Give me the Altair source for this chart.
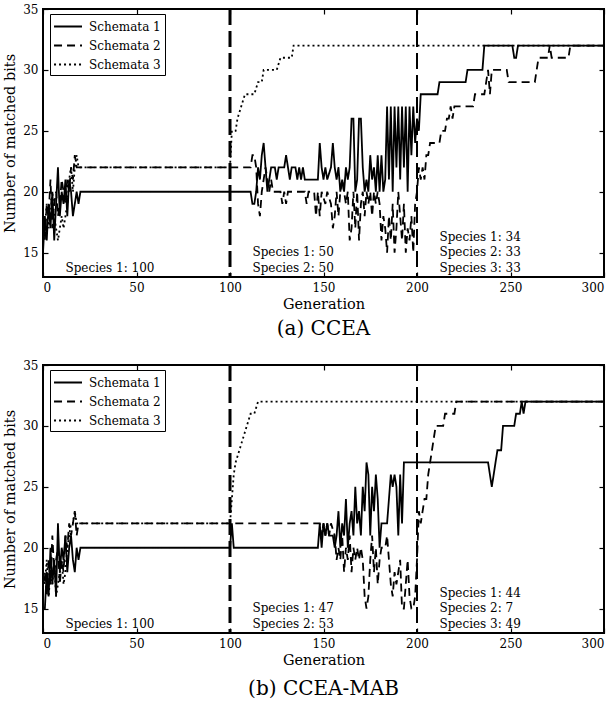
import altair as alt
import pandas as pd

FONT = "DejaVu Serif"
SERIES = ["Schemata 1", "Schemata 2", "Schemata 3"]
DASHES = [[1, 0], [8, 5], [2, 3]]
X_TICKS = [0, 50, 100, 150, 200, 250, 300]
Y_TICKS = [15, 20, 25, 30, 35]
SPLITS = [100, 200]

# ---- CCEA: values for generations 0..20, then (generation, value) vertices ----
A1_EARLY = [15, 18, 16, 19, 17, 20, 16, 19, 22, 18, 20, 19, 21, 18, 21, 20, 18, 19, 20, 19, 20]
A1_LATE = [(111, 20), (112, 19), (113, 19), (114, 20), (115, 22), (116, 21), (117, 23), (118, 24),
           (119, 22), (120, 20), (121, 21), (122, 22), (124, 22), (125, 21), (126, 22), (129, 22),
           (130, 23), (131, 22), (132, 21), (133, 22), (135, 22), (136, 21), (137, 22), (138, 21),
           (139, 22), (140, 21), (147, 21), (148, 24), (149, 22), (150, 21), (151, 22), (152, 21),
           (154, 22), (155, 24), (156, 22), (157, 21), (158, 22), (159, 20), (160, 21), (161, 20),
           (162, 22), (163, 21), (164, 22), (165, 26), (166, 26), (167, 20), (168, 21), (169, 26),
           (170, 26), (171, 22), (172, 20), (173, 21), (174, 20), (175, 23), (176, 21), (177, 22),
           (178, 20), (179, 23), (180, 20), (181, 23), (182, 20), (183, 21), (184, 27), (185, 21),
           (186, 27), (187, 20), (188, 27), (189, 22), (190, 27), (191, 21), (192, 27), (193, 22),
           (194, 27), (195, 20), (196, 27), (197, 23), (198, 27), (199, 24), (200, 26), (201, 25),
           (202, 28), (211, 28), (212, 29), (226, 29), (227, 30), (235, 30), (236, 32), (251, 32),
           (252, 31), (253, 31), (254, 32), (300, 32)]

A2_EARLY = [17, 16, 19, 18, 21, 17, 19, 20, 18, 19, 21, 20, 19, 21, 20, 22, 21, 23, 22, 22, 22]
A2_LATE = [(111, 22), (112, 23), (113, 23), (114, 22), (115, 19), (116, 18), (117, 20), (118, 21),
           (119, 22), (120, 21), (121, 20), (122, 21), (123, 20), (127, 20), (128, 19), (129, 20),
           (130, 19), (131, 20), (140, 20), (141, 19), (142, 20), (145, 20), (146, 18), (147, 20),
           (148, 18), (149, 20), (151, 19), (152, 20), (154, 19), (155, 17), (156, 18), (157, 20),
           (158, 18), (159, 20), (160, 21), (161, 20), (162, 19), (163, 20), (164, 16), (165, 17),
           (166, 20), (167, 17), (168, 20), (169, 16), (170, 19), (171, 20), (172, 18), (173, 20),
           (174, 19), (175, 20), (176, 18), (177, 20), (178, 19), (179, 20), (180, 19), (181, 16),
           (182, 18), (183, 17), (184, 15), (185, 18), (186, 16), (187, 19), (188, 15), (189, 17),
           (190, 20), (191, 18), (192, 16), (193, 19), (194, 15), (195, 17), (196, 16), (197, 18),
           (198, 15), (199, 19), (200, 20), (201, 22), (202, 21), (203, 22), (204, 21), (205, 23),
           (206, 23), (207, 24), (212, 24), (213, 25), (215, 25), (216, 26), (217, 26), (218, 27),
           (219, 26), (220, 27), (230, 27), (231, 28), (236, 28), (238, 30), (239, 28), (240, 30),
           (248, 30), (249, 29), (263, 29), (264, 30), (265, 31), (270, 31), (271, 32), (272, 31),
           (281, 31), (282, 32), (300, 32)]

A3_EARLY = [18, 17, 19, 17, 18, 20, 18, 17, 16, 17, 18, 17, 18, 19, 21, 22, 20, 22, 23, 22, 22]
A3_LATE = [(100, 22), (101, 25), (103, 25), (104, 26), (106, 27), (108, 28), (113, 28), (115, 29),
           (117, 29), (118, 30), (125, 30), (127, 31), (133, 31), (134, 32), (300, 32)]

# ---- CCEA-MAB ----
B1_EARLY = [15, 15, 18, 16, 20, 17, 19, 16, 22, 18, 20, 19, 21, 18, 20, 21, 19, 18, 20, 19, 20]
B1_LATE = [(100, 20), (101, 22), (102, 20), (147, 20), (148, 22), (149, 20), (150, 22), (151, 21),
           (152, 22), (153, 21), (155, 21), (156, 20), (157, 21), (158, 23), (159, 20), (160, 22),
           (161, 21), (162, 24), (163, 20), (164, 22), (165, 23), (166, 21), (167, 25), (168, 22),
           (169, 23), (170, 21), (171, 25), (172, 23), (173, 27), (174, 26), (175, 21), (176, 25),
           (177, 23), (178, 26), (179, 24), (180, 20), (181, 22), (184, 22), (185, 24), (186, 26),
           (187, 25), (188, 26), (189, 25), (190, 21), (191, 26), (192, 22), (193, 27), (238, 27),
           (240, 25), (242, 27), (243, 28), (245, 28), (246, 30), (252, 30), (253, 31), (255, 31),
           (256, 32), (257, 31), (258, 32), (300, 32)]

B2_EARLY = [17, 18, 16, 19, 17, 21, 18, 19, 20, 17, 19, 18, 21, 20, 22, 21, 22, 23, 21, 22, 22]
B2_LATE = [(148, 22), (149, 21), (150, 22), (151, 21), (152, 22), (153, 21), (154, 22), (156, 21),
           (157, 19), (158, 20), (159, 19), (160, 21), (161, 18), (162, 20), (163, 19), (164, 21),
           (165, 18), (166, 20), (167, 19), (168, 20), (169, 19), (170, 20), (171, 19), (172, 16),
           (173, 15), (174, 16), (175, 19), (176, 21), (177, 18), (178, 20), (179, 17), (180, 19),
           (181, 20), (183, 20), (184, 21), (185, 19), (186, 17), (187, 16), (188, 18), (189, 17),
           (190, 18), (191, 19), (192, 15), (193, 15), (194, 17), (195, 19), (196, 16), (197, 15),
           (198, 15), (199, 16), (200, 19), (201, 23), (202, 22), (203, 23), (204, 24), (205, 24),
           (206, 26), (207, 27), (208, 28), (209, 29), (210, 30), (214, 30), (215, 31), (220, 31),
           (221, 32), (300, 32)]

B3_EARLY = [18, 17, 19, 16, 18, 17, 19, 16, 17, 18, 19, 17, 18, 20, 21, 22, 22, 23, 22, 22, 22]
B3_LATE = [(100, 22), (101, 24), (102, 26), (103, 27), (105, 28), (107, 29), (109, 30), (111, 31),
           (113, 31), (115, 32), (300, 32)]

# Species population shares written under each stage
STAGE_START = [0, 100, 200]
A_SPECIES = [["Species 1: 100"],
             ["Species 1: 50", "Species 2: 50"],
             ["Species 1: 34", "Species 2: 33", "Species 3: 33"]]
B_SPECIES = [["Species 1: 100"],
             ["Species 1: 47", "Species 2: 53"],
             ["Species 1: 44", "Species 2: 7", "Species 3: 49"]]


def series_frame(parts):
    rows = []
    for name, (early, late) in zip(SERIES, parts):
        for g, v in enumerate(early):
            rows.append({"series": name, "gen": g, "val": v})
        for g, v in late:
            rows.append({"series": name, "gen": g, "val": v})
    return pd.DataFrame(rows)


def species_frame(stages):
    rows = []
    for start, lines in zip(STAGE_START, stages):
        n = len(lines)
        for i, text in enumerate(lines):
            rows.append({"gen": start + 12, "val": 13.75 + 1.27 * (n - 1 - i), "text": text})
    return pd.DataFrame(rows)


x_scale = alt.Scale(domain=[0, 300], nice=False, zero=False)
y_scale = alt.Scale(domain=[13, 35], nice=False, zero=False)
inward = dict(offset=-5, tickSize=5, domain=False, tickColor="black", tickWidth=1.2,
              labelFont=FONT, labelFontSize=12, labelColor="black",
              titleFont=FONT, titleFontSize=14.5, titleFontWeight="normal", titleColor="black",
              grid=False)


def panel(parts, stages, caption, caption_offset):
    lines = alt.Chart(series_frame(parts)).mark_line(color="black", strokeWidth=1.8, clip=True).encode(
        x=alt.X("gen:Q", scale=x_scale,
                axis=alt.Axis(orient="bottom", values=X_TICKS, title="Generation",
                              labelPadding=5, titlePadding=4, **inward)),
        y=alt.Y("val:Q", scale=y_scale,
                axis=alt.Axis(orient="left", values=Y_TICKS, title="Number of matched bits",
                              labelPadding=5, titlePadding=5, **inward)),
        strokeDash=alt.StrokeDash(
            "series:N",
            scale=alt.Scale(domain=SERIES, range=DASHES),
            legend=alt.Legend(title=None, orient="none", legendX=7, legendY=5,
                              symbolType="M-1.13,0L2.6,0", symbolSize=225,
                              symbolStrokeWidth=1.8, symbolStrokeColor="black",
                              labelFont=FONT, labelFontSize=12, labelOffset=18,
                              labelColor="black",
                              strokeColor="black", fillColor="white", padding=4,
                              rowPadding=4)),
    )

    splits = alt.Chart(pd.DataFrame({"gen": SPLITS})).mark_rule(color="black", strokeDash=[16, 6]).encode(
        x=alt.X("gen:Q", scale=x_scale,
                axis=alt.Axis(orient="top", values=X_TICKS, labels=False, title=None, **inward)),
        strokeWidth=alt.condition("datum.gen == 100", alt.value(3), alt.value(2)),
    )

    labels = alt.Chart(species_frame(stages)).mark_text(
        align="left", baseline="middle", font=FONT, fontSize=12, color="black"
    ).encode(
        x=alt.X("gen:Q", scale=x_scale, axis=None),
        y=alt.Y("val:Q", scale=y_scale,
                axis=alt.Axis(orient="right", values=Y_TICKS, labels=False, title=None, **inward)),
        text="text:N",
    )

    return alt.layer(lines, splits, labels).resolve_axis(x="independent", y="independent").properties(
        width=561, height=268,
        title=alt.TitleParams(caption, orient="bottom", font=FONT, fontSize=20,
                              fontWeight="normal", offset=caption_offset, color="black"),
    )


top = panel([(A1_EARLY, A1_LATE), (A2_EARLY, A2_LATE), (A3_EARLY, A3_LATE)],
            A_SPECIES, "(a) CCEA", 8)
bottom = panel([(B1_EARLY, B1_LATE), (B2_EARLY, B2_LATE), (B3_EARLY, B3_LATE)],
               B_SPECIES, "(b) CCEA-MAB", 12)

chart = alt.vconcat(top, bottom, spacing=18).resolve_scale(strokeDash="independent").resolve_legend(
    strokeDash="independent"
).properties(
    padding={"left": 1, "top": 2, "right": 0, "bottom": 0},
    background="white",
).configure_view(
    stroke="black", strokeWidth=2
)

chart.save("out.html", embed_options={"renderer": "svg", "actions": False})
